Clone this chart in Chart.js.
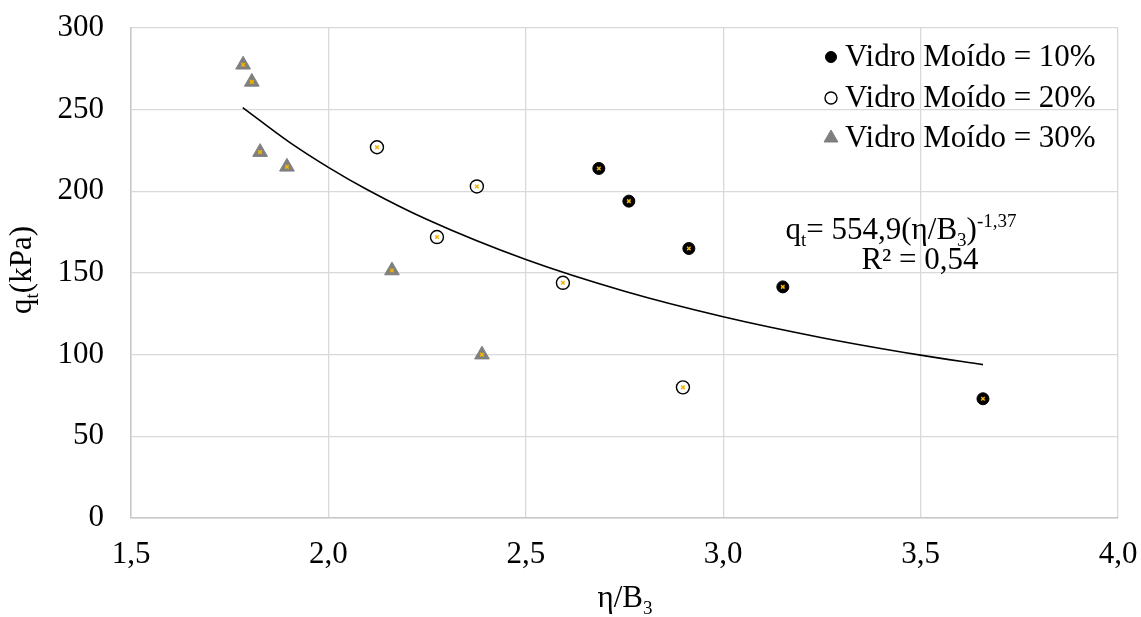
<!DOCTYPE html>
<html>
<head>
<meta charset="utf-8">
<script src="https://cdn.jsdelivr.net/npm/chart.js@4/dist/chart.umd.min.js"></script>
<style>
html,body{margin:0;padding:0;background:#fff;}
#wrap{width:1141px;height:617px;position:relative;}
</style>
</head>
<body>
<div id="wrap"><canvas id="c" width="1141" height="617"></canvas></div>
<script>
// ---- data ----
const seriesLabels = ['Vidro Moído = 10%', 'Vidro Moído = 20%', 'Vidro Moído = 30%'];
const x10 = [2.685, 2.761, 2.913, 3.151, 3.658];
const y10 = [214, 194, 165, 141.5, 73];
const x20 = [2.123, 2.275, 2.376, 2.594, 2.898];
const y20 = [227, 172, 203, 144, 80];
const x30 = [1.784, 1.806, 1.827, 1.895, 2.161, 2.389];
const y30 = [277.5, 267, 224, 215, 151.5, 100];
// trend curve
const trendX = [1.783, 1.9, 2.0, 2.1, 2.25, 2.5, 2.75, 3.0, 3.25, 3.5, 3.658];
const trendY = [251.3, 230.3, 214.7, 200.8, 182.7, 158.2, 138.8, 123.2, 110.4, 99.7, 93.9];
const xTicks = [1.5, 2.0, 2.5, 3.0, 3.5, 4.0];
const yTicks = [0, 50, 100, 150, 200, 250, 300];
const xTitle = 'η/B';
const yTitle = 'q';

const pts = (xs, ys) => xs.map((x, i) => ({x: x, y: ys[i]}));
const FONT = '"Liberation Serif", "Times New Roman", serif';
const FS = 31;
const fmt = v => Number(v).toFixed(1).replace('.', ',');

const yellowX = (xs, ys) => ({
  label: '', data: pts(xs, ys), pointStyle: 'crossRot', pointRadius: 2.5,
  borderColor: '#f2b500', backgroundColor: '#f2b500', pointBorderWidth: 1.5,
  showLine: false, order: -1
});

const datasets = [
  {label: seriesLabels[0], data: pts(x10, y10), pointStyle: 'circle', pointRadius: 6,
   backgroundColor: '#000', borderColor: '#000', pointBorderWidth: 1, showLine: false},
  {label: seriesLabels[1], data: pts(x20, y20), pointStyle: 'circle', pointRadius: 6.5,
   backgroundColor: '#fff', borderColor: '#000', pointBorderWidth: 1.4, showLine: false},
  {label: seriesLabels[2], data: pts(x30, y30), pointStyle: 'triangle', pointRadius: 8.5,
   backgroundColor: '#7f7f7f', borderColor: '#7f7f7f', pointBorderWidth: 1, showLine: false},
  yellowX(x10, y10), yellowX(x20, y20), yellowX(x30, y30),
  {label: 'trend', data: pts(trendX, trendY), showLine: true, pointRadius: 0,
   borderColor: '#000', borderWidth: 1.6, cubicInterpolationMode: 'monotone', order: 10}
];

function drawRich(ctx, parts, x, y, align) {
  const fontFor = m => (m === 'n' ? FS : Math.round(FS * 0.62)) + 'px ' + FONT;
  let total = 0;
  parts.forEach(p => { ctx.font = fontFor(p[1]); total += ctx.measureText(p[0]).width; });
  let cx = align === 'center' ? x - total / 2 : (align === 'right' ? x - total : x);
  ctx.textAlign = 'left';
  ctx.textBaseline = 'alphabetic';
  parts.forEach(p => {
    ctx.font = fontFor(p[1]);
    let dy = 0;
    if (p[1] === 'sub') dy = FS * 0.22;
    if (p[1] === 'sup') dy = -FS * 0.38;
    ctx.fillText(p[0], cx, y + dy);
    cx += ctx.measureText(p[0]).width;
  });
}

const decor = {
  id: 'decor',
  afterDraw(chart) {
    const ctx = chart.ctx;
    ctx.save();
    const rows = [57, 98, 138];
    const radii = [5.5, 6, 8];
    for (let i = 0; i < 3; i++) {
      const ds = chart.data.datasets[i];
      ctx.fillStyle = ds.backgroundColor; ctx.strokeStyle = ds.borderColor;
      ctx.lineWidth = ds.pointBorderWidth;
      Chart.helpers.drawPoint(ctx, {pointStyle: ds.pointStyle, radius: radii[i], borderWidth: ds.pointBorderWidth}, 831, rows[i]);
      ctx.fillStyle = '#000';
      ctx.font = FS + 'px ' + FONT;
      ctx.textAlign = 'left'; ctx.textBaseline = 'middle';
      ctx.fillText(ds.label, 845, rows[i] + 1);
    }
    ctx.fillStyle = '#000';
    drawRich(ctx, [['q', 'n'], ['t', 'sub'], ['= 554,9(η/B', 'n'], ['3', 'sub'], [')', 'n'], ['-1,37', 'sup']], 901, 239, 'center');
    drawRich(ctx, [['R² = 0,54', 'n']], 920, 269, 'center');
    drawRich(ctx, [[xTitle, 'n'], ['3', 'sub']], 625, 607, 'center');
    ctx.save();
    ctx.translate(31, 270);
    ctx.rotate(-Math.PI / 2);
    drawRich(ctx, [[yTitle, 'n'], ['t', 'sub'], ['(kPa)', 'n']], 0, 0, 'center');
    ctx.restore();
    ctx.restore();
  }
};

new Chart(document.getElementById('c'), {
  type: 'scatter',
  data: {datasets: datasets},
  options: {
    responsive: false, animation: false, devicePixelRatio: 1,
    layout: {padding: {top: 28, right: 23, left: 0, bottom: 0}},
    plugins: {legend: {display: false}, tooltip: {enabled: false}},
    scales: {
      x: {
        type: 'linear', min: 1.5, max: 4.0,
        afterBuildTicks: s => { s.ticks = xTicks.map(v => ({value: v})); },
        afterFit: s => { s.height = 99; s.paddingLeft = 0; s.paddingRight = 0; },
        grid: {color: '#d9d9d9', lineWidth: 1.3, drawTicks: false},
        border: {color: '#c8c8c8', width: 1.5},
        ticks: {padding: 18, color: '#000', font: {family: FONT, size: FS}, callback: v => fmt(v), maxRotation: 0}
      },
      y: {
        type: 'linear', min: 0, max: 300,
        afterBuildTicks: s => { s.ticks = yTicks.map(v => ({value: v})); },
        afterFit: s => { s.width = 131; s.paddingTop = 0; s.paddingBottom = 0; },
        grid: {color: '#d9d9d9', lineWidth: 1.3, drawTicks: false},
        border: {color: '#c8c8c8', width: 1.5},
        ticks: {padding: 27, color: '#000', font: {family: FONT, size: FS}}
      }
    }
  },
  plugins: [decor]
});
</script>
</body>
</html>
